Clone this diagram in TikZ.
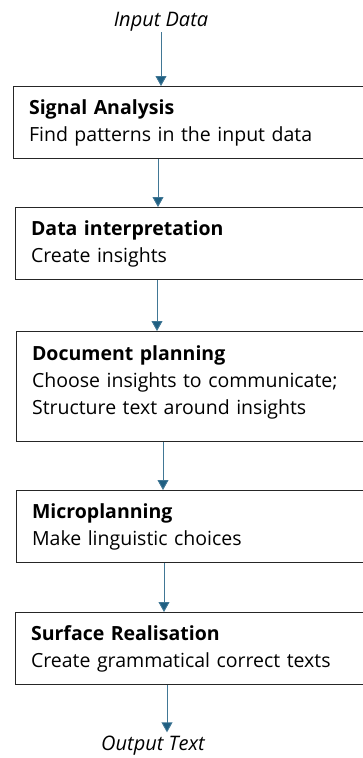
\documentclass[tikz,border=0pt]{standalone}
\usepackage{fontspec}
\setmainfont{Open Sans}
\usepackage{tikz}
\usetikzlibrary{arrows.meta}

\definecolor{flowblue}{HTML}{1F5F82}

\tikzset{
  stage/.style={draw=black!85, line width=1.1pt, anchor=north west,
    text width=330pt, inner xsep=15.5pt, minimum height=72pt, align=left,
    font=\fontsize{19.5}{27}\selectfont},
  flow/.style={draw=flowblue!85, line width=0.9pt,
    -{Triangle[width=11pt,length=10pt,fill=flowblue]}},
  io/.style={font=\fontsize{20}{22}\selectfont\itshape, inner sep=0pt, anchor=base}
}

\begin{document}
\begin{tikzpicture}[x=1pt,y=-1pt]
  \useasboundingbox (0,0) rectangle (362,758);

  \draw (161,26) node[io] (input) {Input Data};
  \draw (13,86) node[stage] (sa) {\textbf{Signal Analysis}\\Find patterns in the input data};
  \draw (15,207) node[stage] (di) {\textbf{Data interpretation}\\Create insights};
  \draw (16,331) node[stage, minimum height=110pt] (dp) {\textbf{Document planning}\\Choose insights to communicate;\\Structure text around insights\\[-15pt]\mbox{}};
  \draw (16,490) node[stage] (mp) {\textbf{Microplanning}\\Make linguistic choices};
  \draw (15,612) node[stage] (sr) {\textbf{Surface Realisation}\\Create grammatical correct texts};
  \draw (153,750) node[io] (output) {Output Text};
  \coordinate (outtop) at ([yshift=3]output.north);

  % pipeline arrows
  \path ([yshift=-6]input.base) edge[flow] (input.base |- sa.north);
  \path ([xshift=145]sa.south west) edge[flow] ([xshift=145]sa.south west |- di.north);
  \path ([xshift=142]di.south west) edge[flow] ([xshift=142]di.south west |- dp.north);
  \path ([xshift=147]dp.south west) edge[flow] ([xshift=147]dp.south west |- mp.north);
  \path ([xshift=148]mp.south west) edge[flow] ([xshift=148]mp.south west |- sr.north);
  \path ([xshift=152]sr.south west) edge[flow] ([xshift=152]sr.south west |- outtop);

\end{tikzpicture}
\end{document}
